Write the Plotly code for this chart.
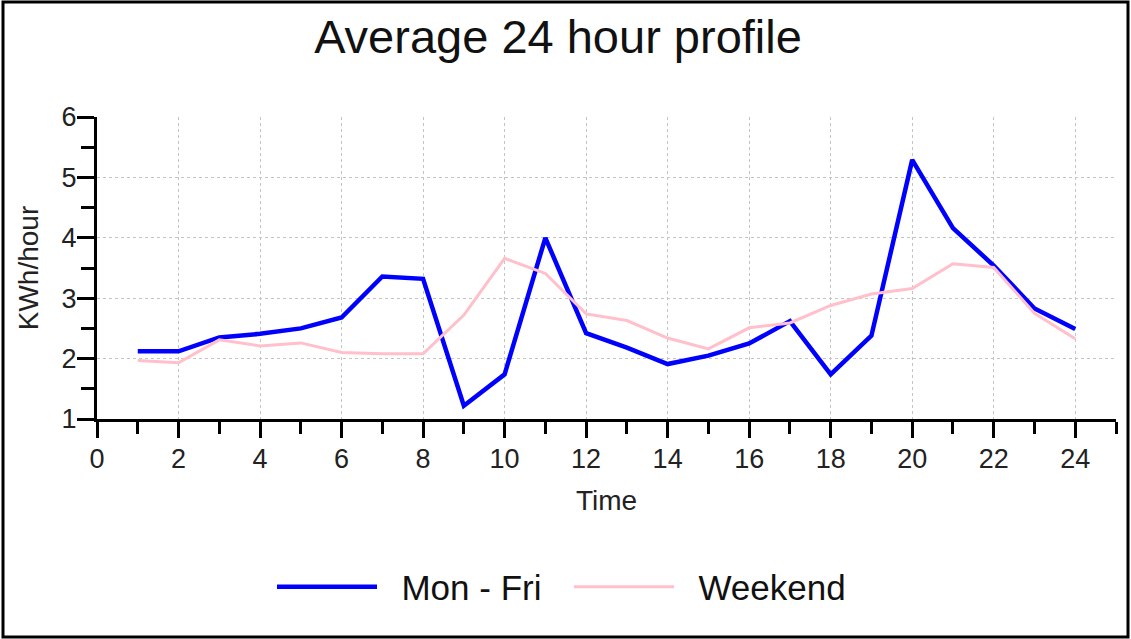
import plotly.graph_objects as go

hours = list(range(1, 25))
mon_fri = [2.12, 2.12, 2.35, 2.41, 2.5, 2.68, 3.36, 3.32, 1.22, 1.74, 4.0, 2.42,
           2.18, 1.91, 2.05, 2.25, 2.62, 1.74, 2.38, 5.29, 4.16, 3.54, 2.83, 2.49]
weekend = [1.97, 1.93, 2.31, 2.21, 2.26, 2.1, 2.08, 2.08, 2.72, 3.66, 3.41, 2.74,
           2.63, 2.34, 2.16, 2.51, 2.59, 2.88, 3.07, 3.16, 3.57, 3.51, 2.75, 2.33]
x_ticks = list(range(0, 25, 2))
y_ticks = [1, 2, 3, 4, 5, 6]

FONT = "Liberation Sans, Arial, sans-serif"
NB = "\u00a0"

fig = go.Figure()
fig.add_trace(go.Scatter(x=hours, y=mon_fri, mode="lines", name=NB * 2 + "Mon - Fri",
                         line=dict(color="#0000ff", width=4.5)))
fig.add_trace(go.Scatter(x=hours, y=weekend, mode="lines", name=NB * 2 + "Weekend",
                         line=dict(color="#ffc0cb", width=3)))

# plot area: x 97..1116, y 117..419
fig.update_layout(
    width=1131, height=639,
    margin=dict(l=97, r=15, t=117, b=220),
    paper_bgcolor="white", plot_bgcolor="white",
    font=dict(family=FONT, color="#222222"),
    title=dict(text="Average 24 hour profile", font=dict(size=47, color="#111111"),
               x=558 / 1131, xref="container", xanchor="center",
               y=1 - 37 / 639, yref="container", yanchor="middle"),
    showlegend=True,
    legend=dict(orientation="h", x=(272 - 97) / 1019, xanchor="left",
                y=-0.556, yanchor="middle",
                font=dict(size=35, color="#111111"), itemwidth=100,
                entrywidth=182, entrywidthmode="pixels",
                bgcolor="rgba(0,0,0,0)"),
    xaxis=dict(range=[0, 25], tickmode="array", tickvals=x_ticks,
               ticks="outside", ticklen=16, tickwidth=3, tickcolor="black",
               showline=True, linecolor="black", linewidth=3,
               tickfont=dict(size=27, color="#222222"), ticklabelstandoff=-2,
               showgrid=True, gridcolor="#c4c4c4", griddash="3px,3px", gridwidth=1,
               zeroline=False,
               minor=dict(dtick=1, tick0=0, ticks="outside", ticklen=12, tickwidth=3,
                          tickcolor="black", showgrid=False),
               title=dict(text="Time", font=dict(size=28, color="#222222"), standoff=17)),
    yaxis=dict(range=[1, 6], tickmode="array", tickvals=y_ticks,
               ticks="outside", ticklen=17, tickwidth=3, tickcolor="black",
               showline=True, linecolor="black", linewidth=3,
               tickfont=dict(size=27, color="#222222"), ticklabelstandoff=-5,
               showgrid=True, gridcolor="#c4c4c4", griddash="3px,3px", gridwidth=1,
               zeroline=False,
               minor=dict(dtick=0.5, tick0=0, ticks="outside", ticklen=13, tickwidth=3,
                          tickcolor="black", showgrid=False),
               title=dict(text="KWh/hour", font=dict(size=28, color="#222222"), standoff=15)),
)

# outer frame of the figure
pw, ph = 1019.0, 302.0
fig.add_shape(type="rect", xref="paper", yref="paper",
              x0=(3 - 97) / pw, x1=(1128 - 97) / pw,
              y0=(419 - 637) / ph, y1=(419 - 2) / ph,
              line=dict(color="black", width=3), fillcolor="rgba(0,0,0,0)", layer="below")

fig.write_html("out.html", config={"displayModeBar": False},
               post_script="document.body.style.margin='0';document.body.style.overflow='hidden';")
